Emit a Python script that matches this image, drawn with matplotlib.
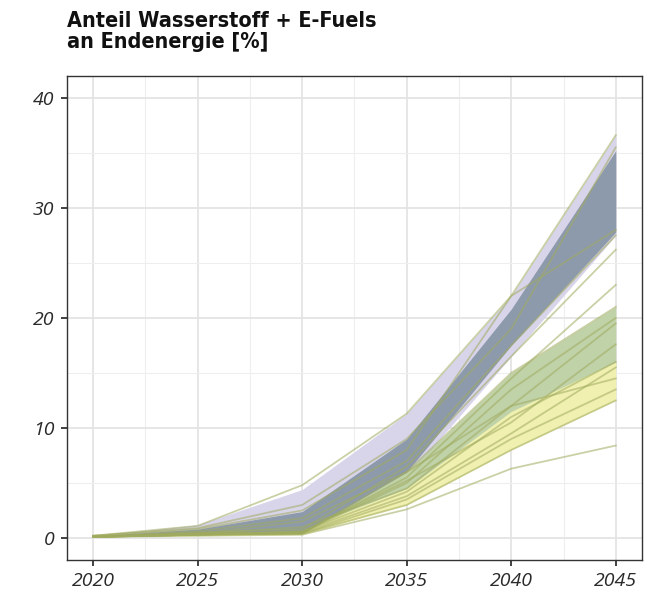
import matplotlib
matplotlib.use("Agg")
import matplotlib.pyplot as plt
from matplotlib import font_manager as fm
import numpy as np

years = [2020, 2025, 2030, 2035, 2040, 2045]

# Szenario-Korridore (untere / obere Grenze)
band_lila_lo = [0.1, 0.3, 0.4, 5.5, 16.5, 27.5]
band_lila_hi = [0.2, 1.2, 4.4, 11.3, 22.0, 36.6]
band_blau_lo = [0.1, 0.3, 0.4, 6.0, 17.5, 27.8]
band_blau_hi = [0.2, 0.8, 2.4, 9.0, 20.8, 35.2]
band_gruen_lo = [0.1, 0.3, 0.4, 3.8, 10.0, 15.5]
band_gruen_hi = [0.1, 0.4, 1.5, 6.0, 15.0, 21.0]
band_gelb_lo = [0.1, 0.2, 0.3, 3.0, 8.0, 12.5]
band_gelb_hi = [0.1, 0.3, 0.8, 4.5, 11.5, 16.0]

# Einzelszenarien
szenarien = [
    [0.2, 1.1, 4.8, 11.3, 22.0, 36.6],
    [0.2, 0.9, 3.0, 9.0, 19.0, 35.5],
    [0.2, 0.8, 2.5, 8.0, 22.0, 28.0],
    [0.1, 0.6, 1.8, 7.0, 17.5, 27.5],
    [0.1, 0.5, 0.8, 6.5, 16.5, 26.2],
    [0.1, 0.4, 0.5, 5.5, 14.5, 23.0],
    [0.1, 0.4, 1.5, 6.0, 15.0, 21.0],
    [0.1, 0.4, 0.5, 5.0, 13.5, 20.0],
    [0.1, 0.4, 1.0, 4.5, 12.0, 19.5],
    [0.1, 0.3, 0.6, 5.2, 10.5, 17.6],
    [0.1, 0.3, 0.6, 4.2, 11.0, 16.0],
    [0.1, 0.3, 0.5, 3.8, 9.5, 15.5],
    [0.1, 0.3, 0.4, 6.0, 12.0, 14.5],
    [0.1, 0.3, 0.4, 3.5, 9.0, 13.5],
    [0.1, 0.3, 0.4, 3.0, 8.0, 12.5],
    [0.1, 0.2, 0.3, 2.6, 6.3, 8.4],
]


def schmale_schrift():
    # irgendeine schmale fette Schrift, sonst DejaVu
    for f in fm.fontManager.ttflist:
        n = f.fname.lower()
        if ('narrow' in n or 'condensed' in n) and 'bold' in n and 'italic' not in n and 'oblique' not in n:
            return fm.FontProperties(fname=f.fname)
    return fm.FontProperties(family="DejaVu Sans", weight="bold")


fig = plt.figure(figsize=(6.53, 5.97), dpi=100)
ax = fig.add_axes([0.1026, 0.062, 0.8804, 0.811])

ax.fill_between(years, band_lila_lo, band_lila_hi, color="#d8d4ea", lw=0, zorder=2)
ax.fill_between(years, band_blau_lo, band_blau_hi, color="#8d9aab", lw=0, zorder=3)
ax.fill_between(years, band_gruen_lo, band_gruen_hi, color="#c0d2a8", lw=0, zorder=2)
ax.fill_between(years, band_gelb_lo, band_gelb_hi, color="#f0f0b0", lw=0, zorder=2)

for s in szenarien:
    ax.plot(years, s, color="#a0ab5e", alpha=0.55, lw=1.3, zorder=4)

ax.set_xlim(2018.75, 2046.25)
ax.set_ylim(-2, 42)
ax.set_xticks(years)
ax.set_yticks([0, 10, 20, 30, 40])
ax.set_xticks(np.arange(2022.5, 2045, 5), minor=True)
ax.set_yticks([5, 15, 25, 35], minor=True)
ax.grid(which="major", color="#e4e4e4", lw=1.3, zorder=0)
ax.grid(which="minor", color="#eeeeee", lw=0.8, zorder=0)
ax.set_axisbelow(True)
for sp in ax.spines.values():
    sp.set_color("#333333")
    sp.set_linewidth(1.0)

ax.tick_params(which="major", length=4, width=1.3, color="#333333",
               labelsize=14, labelcolor="#2a2a2a", pad=5)
ax.tick_params(which="minor", length=0)
for lab in ax.get_xticklabels() + ax.get_yticklabels():
    lab.set_fontstyle("italic")
    lab.set_family("Open Sans")

titel = schmale_schrift()
titel.set_size(15.5)
fig.text(0.102, 0.982, "Anteil Wasserstoff + E-Fuels\nan Endenergie [%]",
         fontproperties=titel, color="#111111", ha="left", va="top",
         linespacing=1.1)

fig.savefig("out.png", dpi=100)
